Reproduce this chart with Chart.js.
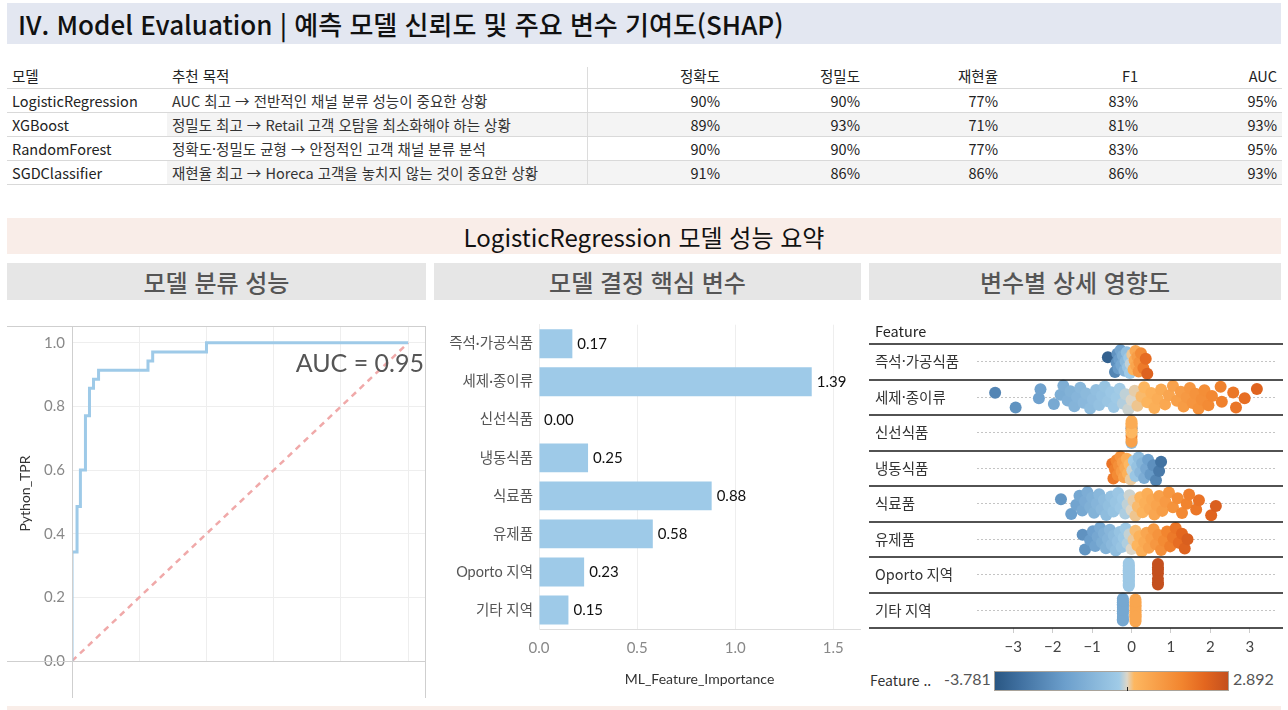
<!DOCTYPE html>
<html lang="ko">
<head>
<meta charset="utf-8">
<title>Model Evaluation</title>
<script src="https://cdn.jsdelivr.net/npm/chart.js@4.4.1/dist/chart.umd.min.js"></script>
<style>
  body { margin: 0; width: 1288px; height: 710px; position: relative; overflow: hidden; background: #fff;
         font-family: 'Noto Sans CJK KR', 'Noto Sans', sans-serif; color: #222; }
  .abs { position: absolute; }
  .band { position: absolute; display: flex; align-items: center; }
  #title { left: 7px; top: 3px; width: 1274px; height: 41px; background: #e3e7f1; font-size: 26px; font-weight: 500; color: #111; }
  #title span { padding-left: 11px; }
  #summary { left: 7px; top: 218px; width: 1274px; height: 36px; background: #f9ede8; justify-content: center; font-size: 24px; color: #111; }
  .sub { top: 263px; height: 37px; background: #e6e6e6; justify-content: center; font-size: 24px; font-weight: 500; color: #555; }
  .cell { position: absolute; font-size: 14.5px; line-height: 23px; white-space: nowrap; }
  .num { text-align: right; }
  .hline { position: absolute; left: 7px; width: 1275px; height: 1px; background: #d9d9d9; }
  .shade { position: absolute; left: 167px; width: 1115px; height: 23px; background: #f4f4f4; }
  #bottom { left: 7px; top: 706px; width: 1274px; height: 4px; background: #f9ede8; }
  .box { position: absolute; }
  #legend { left: 869px; top: 668px; width: 414px; height: 26px; font-size: 14px; }
</style>
</head>
<body>
<div id="title" class="band"><span>IV. Model Evaluation | 예측 모델 신뢰도 및 주요 변수 기여도(SHAP)</span></div>
<div id="table"></div>
<div id="summary" class="band">LogisticRegression 모델 성능 요약</div>
<div class="band sub" style="left:7px;width:419px">모델 분류 성능</div>
<div class="band sub" style="left:434px;width:427px">모델 결정 핵심 변수</div>
<div class="band sub" style="left:869px;width:412px">변수별 상세 영향도</div>

<div class="box" style="left:7px;top:310px;width:419px;height:388px"><canvas id="rocChart"></canvas></div>
<div class="box" style="left:434px;top:310px;width:427px;height:390px"><canvas id="importanceChart"></canvas></div>
<div class="box" style="left:869px;top:310px;width:414px;height:358px"><canvas id="shapChart"></canvas></div>
<div id="legend" class="abs"></div>
<div id="bottom" class="abs"></div>

<script>
Chart.defaults.font.family = "'Lato', 'Noto Sans CJK KR', sans-serif";
Chart.defaults.color = "#888";
Chart.defaults.animation = false;

// ---- model comparison table ----
const models = ['LogisticRegression', 'XGBoost', 'RandomForest', 'SGDClassifier'];
const purposes = [
    'AUC 최고 → 전반적인 채널 분류 성능이 중요한 상황',
    '정밀도 최고 → Retail 고객 오탐을 최소화해야 하는 상황',
    '정확도·정밀도 균형 → 안정적인 고객 채널 분류 분석',
    '재현율 최고 → Horeca 고객을 놓치지 않는 것이 중요한 상황'
];
const metricNames = ['정확도', '정밀도', '재현율', 'F1', 'AUC'];
const accuracy = [90, 89, 90, 91];
const precision = [90, 93, 90, 86];
const recall = [77, 71, 77, 86];
const f1 = [83, 81, 83, 86];
const auc = [95, 93, 95, 93];

// ---- ROC curve (LogisticRegression) ----
const rocFpr = [0, 0, 0.015, 0.015, 0.025, 0.025, 0.04, 0.04, 0.052, 0.052, 0.064, 0.064, 0.079, 0.079, 0.226, 0.226, 0.24, 0.24, 0.40, 0.40, 1.0];
const rocTpr = [0, 0.343, 0.343, 0.486, 0.486, 0.6, 0.6, 0.771, 0.771, 0.857, 0.857, 0.886, 0.886, 0.914, 0.914, 0.943, 0.943, 0.971, 0.971, 1.0, 1.0];
const aucValue = 0.95;

// ---- feature importance ----
const features = ['즉석·가공식품', '세제·종이류', '신선식품', '냉동식품', '식료품', '유제품', 'Oporto 지역', '기타 지역'];
const importance = [0.17, 1.39, 0.00, 0.25, 0.88, 0.58, 0.23, 0.15];

// ---- SHAP values (x) and standardized feature values (colour) per feature ----
const shapConv = [-0.60, -0.42, -0.38, -0.36, -0.33, -0.31, -0.28, -0.26, -0.22, -0.18, -0.15, -0.12, -0.09, -0.06, -0.04, -0.02, 0.02, 0.05, 0.08, 0.10, 0.12, 0.15, 0.18, 0.20, 0.24, 0.30, 0.36, 0.40];
const valConv = [-3.5, -2.5, -2.2, -2.1, -1.9, -1.8, -1.6, -1.5, -1.3, -1.1, -0.9, -0.7, -0.5, -0.35, -0.25, -0.1, 0.1, 0.3, 0.5, 0.6, 0.7, 0.9, 1.1, 1.2, 1.4, 1.8, 2.1, 2.35];

const shapDet = [-3.46, -2.94, -2.35, -2.31, -1.97, -1.80, -1.73, -1.62, -1.55, -1.45, -1.38, -1.30, -1.22, -1.15, -1.05, -0.98, -0.90, -0.82, -0.75, -0.68, -0.60, -0.52, -0.45, -0.38, -0.30, -0.22, -0.15, -0.08, 0.00, 0.08, 0.15, 0.25, 0.32, 0.40, 0.50, 0.58, 0.66, 0.75, 0.85, 0.95, 1.05, 1.15, 1.25, 1.32, 1.40, 1.48, 1.55, 1.62, 1.70, 1.78, 1.85, 1.95, 2.04, 2.26, 2.29, 2.58, 2.65, 2.87, 3.18];
const valDet = [-2.49, -2.12, -1.69, -1.66, -1.42, -1.29, -1.24, -1.17, -1.12, -1.04, -0.99, -0.94, -0.88, -0.83, -0.76, -0.71, -0.65, -0.59, -0.54, -0.49, -0.43, -0.37, -0.32, -0.27, -0.22, -0.16, -0.11, -0.06, 0.00, 0.06, 0.11, 0.18, 0.23, 0.29, 0.36, 0.42, 0.47, 0.54, 0.61, 0.68, 0.76, 0.83, 0.90, 0.95, 1.01, 1.06, 1.12, 1.17, 1.22, 1.28, 1.33, 1.40, 1.47, 1.63, 1.65, 1.86, 1.91, 2.06, 2.29];

const shapFresh = [0, 0, 0, 0, 0, 0, 0, 0, 0, 0, 0, 0];
const valFresh = [-2.4, -0.8, -0.2, 0.5, 0.3, 0.9, 0.4, 1.6, 0.6, 0.8, 0.2, 0.5];

const shapFrozen = [-0.49, -0.46, -0.42, -0.38, -0.35, -0.32, -0.28, -0.25, -0.22, -0.19, -0.16, -0.12, -0.09, -0.05, -0.02, 0.02, 0.06, 0.10, 0.14, 0.18, 0.22, 0.27, 0.32, 0.37, 0.42, 0.48, 0.55, 0.62, 0.70, 0.75];
const valFrozen = [1.96, 1.84, 1.68, 1.52, 1.40, 1.28, 1.12, 1.00, 0.88, 0.76, 0.64, 0.48, 0.36, 0.20, 0.08, -0.08, -0.24, -0.40, -0.56, -0.72, -0.88, -1.08, -1.28, -1.48, -1.68, -1.92, -2.20, -2.48, -2.80, -3.00];

const shapGroc = [-1.79, -1.53, -1.40, -1.32, -1.25, -1.18, -1.12, -1.05, -1.00, -0.95, -0.88, -0.82, -0.76, -0.70, -0.64, -0.58, -0.52, -0.46, -0.40, -0.34, -0.28, -0.22, -0.16, -0.10, -0.05, 0.00, 0.05, 0.10, 0.16, 0.22, 0.28, 0.34, 0.40, 0.46, 0.52, 0.58, 0.64, 0.70, 0.78, 0.86, 0.95, 1.05, 1.17, 1.28, 1.40, 1.46, 1.64, 1.71, 2.02, 2.14];
const valGroc = [-2.03, -1.74, -1.59, -1.50, -1.42, -1.34, -1.27, -1.19, -1.14, -1.08, -1.00, -0.93, -0.86, -0.80, -0.73, -0.66, -0.59, -0.52, -0.45, -0.39, -0.32, -0.25, -0.18, -0.11, -0.06, 0.00, 0.06, 0.11, 0.18, 0.25, 0.32, 0.39, 0.45, 0.52, 0.59, 0.66, 0.73, 0.80, 0.89, 0.98, 1.08, 1.19, 1.33, 1.45, 1.59, 1.66, 1.86, 1.94, 2.30, 2.43];

const shapMilk = [-1.24, -1.18, -1.05, -0.98, -0.92, -0.86, -0.80, -0.75, -0.70, -0.65, -0.60, -0.55, -0.50, -0.45, -0.40, -0.35, -0.30, -0.25, -0.20, -0.15, -0.10, -0.05, 0.00, 0.05, 0.10, 0.15, 0.20, 0.26, 0.32, 0.38, 0.44, 0.50, 0.56, 0.62, 0.68, 0.75, 0.82, 0.90, 0.98, 1.05, 1.12, 1.20, 1.28, 1.35, 1.42];
const valMilk = [-2.14, -2.03, -1.81, -1.69, -1.59, -1.48, -1.38, -1.29, -1.21, -1.12, -1.03, -0.95, -0.86, -0.78, -0.69, -0.60, -0.52, -0.43, -0.34, -0.26, -0.17, -0.09, 0.00, 0.09, 0.17, 0.26, 0.34, 0.45, 0.55, 0.66, 0.76, 0.86, 0.97, 1.07, 1.17, 1.29, 1.41, 1.55, 1.69, 1.81, 1.93, 2.07, 2.21, 2.33, 2.45];

// binary region features: one SHAP value / feature value per group, with group sizes
const shapOporto = [-0.07, 0.67];
const valOporto = [-0.33, 2.89];
const countOporto = [16, 7];
const shapOther = [-0.22, 0.10];
const valOther = [-1.47, 0.67];
const countOther = [12, 14];

const colorMin = -3.781;
const colorMax = 2.892;

// ---------------- table ----------------
const table = document.getElementById('table');
const colLeft = [12, 172];
const colRight = [720, 860, 998, 1138, 1277];
const rowTop = [66, 89, 113, 137, 161];

function addCell(text, x, y, right, color) {
    const d = document.createElement('div');
    d.className = 'cell' + (right ? ' num' : '');
    d.textContent = text;
    d.style.top = y + 'px';
    d.style.color = color || '#222';
    if (right) { d.style.left = (x - 130) + 'px'; d.style.width = '130px'; }
    else d.style.left = x + 'px';
    table.appendChild(d);
}
function addLine(y) {
    const l = document.createElement('div');
    l.className = 'hline';
    l.style.top = y + 'px';
    table.appendChild(l);
}
[1, 3].forEach(r => {
    const s = document.createElement('div');
    s.className = 'shade';
    s.style.top = rowTop[r + 1] + 'px';
    table.appendChild(s);
});
const vline = document.createElement('div');
vline.className = 'abs';
Object.assign(vline.style, { left: '587px', top: '67px', width: '1px', height: '118px', background: '#dcdcdc' });
table.appendChild(vline);

addCell('모델', colLeft[0], rowTop[0] - 2);
addCell('추천 목적', colLeft[1], rowTop[0] - 2);
metricNames.forEach((m, j) => addCell(m, colRight[j], rowTop[0] - 2, true));
addLine(88);
const metrics = [accuracy, precision, recall, f1, auc];
models.forEach((m, i) => {
    const y = rowTop[i + 1];
    addCell(m, colLeft[0], y);
    addCell(purposes[i], colLeft[1], y, false, '#333');
    metrics.forEach((arr, j) => addCell(arr[i] + '%', colRight[j], y, true));
    addLine(y + 23);
});

// ---------------- ROC chart ----------------
const rocFrame = {
    id: 'rocFrame',
    afterDraw(chart) {
        const { ctx, chartArea: a } = chart;
        ctx.save();
        ctx.strokeStyle = '#cfcfcf';
        ctx.lineWidth = 1;
        ctx.beginPath();
        ctx.moveTo(0, a.top + 0.5); ctx.lineTo(chart.width, a.top + 0.5);
        ctx.moveTo(0, a.bottom + 0.5); ctx.lineTo(chart.width, a.bottom + 0.5);
        ctx.moveTo(a.left + 0.5, a.top); ctx.lineTo(a.left + 0.5, chart.height);
        ctx.moveTo(a.right + 0.5, a.top); ctx.lineTo(a.right + 0.5, chart.height);
        ctx.stroke();
        ctx.fillStyle = '#555';
        ctx.font = "25px 'Lato', sans-serif";
        ctx.textAlign = 'right';
        ctx.textBaseline = 'middle';
        ctx.fillText('AUC = ' + aucValue.toFixed(2), a.right - 1, chart.scales.y.getPixelForValue(0.935));
        ctx.restore();
    }
};

new Chart(document.getElementById('rocChart'), {
    type: 'scatter',
    data: {
        datasets: [
            {
                label: 'ROC',
                data: rocFpr.map((x, i) => ({ x, y: rocTpr[i] })),
                showLine: true,
                borderColor: '#9ecae8',
                borderWidth: 3,
                pointRadius: 0,
                order: 1
            },
            {
                label: 'Random',
                data: [{ x: 0, y: 0 }, { x: 1, y: 1 }],
                showLine: true,
                borderColor: '#f0a9a9',
                borderWidth: 2.5,
                borderDash: [6, 5],
                pointRadius: 0,
                order: 2
            }
        ]
    },
    plugins: [rocFrame],
    options: {
        responsive: true,
        maintainAspectRatio: false,
        layout: { padding: { top: 14, right: 1 } },
        plugins: { legend: { display: false }, tooltip: { enabled: false } },
        scales: {
            x: {
                type: 'linear', min: 0, max: 1.05,
                afterBuildTicks: s => { s.ticks = [0, 0.2, 0.4, 0.6, 0.8, 1.0].map(v => ({ value: v })); },
                afterFit: s => { s.height = 37; },
                ticks: { display: false },
                grid: { color: '#eeeeee', drawTicks: false },
                border: { display: false }
            },
            y: {
                min: 0, max: 1.053,
                afterBuildTicks: s => { s.ticks = [0, 0.2, 0.4, 0.6, 0.8, 1.0].map(v => ({ value: v })); },
                afterFit: s => { s.width = 65; },
                ticks: { color: '#888', font: { size: 15 }, padding: 7, callback: v => v.toFixed(1) },
                grid: { color: '#eeeeee', drawTicks: false },
                border: { display: false },
                title: { display: true, text: 'Python_TPR', color: '#333', font: { size: 14 }, padding: { top: 10 } }
            }
        }
    }
});

// ---------------- feature importance ----------------
const barLabels = {
    id: 'barLabels',
    afterDatasetsDraw(chart) {
        const { ctx } = chart;
        ctx.save();
        ctx.fillStyle = '#111';
        ctx.font = "15px 'Lato', sans-serif";
        ctx.textBaseline = 'middle';
        chart.getDatasetMeta(0).data.forEach((bar, i) => {
            ctx.fillText(importance[i].toFixed(2), bar.x + 5, bar.y);
        });
        ctx.restore();
    }
};

new Chart(document.getElementById('importanceChart'), {
    type: 'bar',
    data: {
        labels: features,
        datasets: [{
            data: importance,
            backgroundColor: '#9ecae8',
            barPercentage: 0.76,
            categoryPercentage: 1.0
        }]
    },
    plugins: [barLabels],
    options: {
        indexAxis: 'y',
        responsive: true,
        maintainAspectRatio: false,
        layout: { padding: { top: 14, right: 1 } },
        plugins: { legend: { display: false }, tooltip: { enabled: false } },
        scales: {
            x: {
                min: 0, max: 1.636,
                afterBuildTicks: s => { s.ticks = [0, 0.5, 1.0, 1.5].map(v => ({ value: v })); },
                afterFit: s => { s.height = 71; },
                ticks: { color: '#888', font: { size: 15 }, padding: 6, callback: v => v.toFixed(1) },
                grid: { color: '#eeeeee', tickLength: 4, tickColor: 'rgba(0,0,0,0)' },
                border: { color: '#dddddd' },
                title: { display: true, text: 'ML_Feature_Importance', color: '#333', font: { size: 14 }, padding: { bottom: 12 } }
            },
            y: {
                afterFit: s => { s.width = 105; },
                ticks: { color: '#555', font: { size: 14.5 }, padding: 6 },
                grid: { display: false, drawTicks: false },
                border: { color: '#eeeeee' }
            }
        }
    }
});

// ---------------- SHAP beeswarm ----------------
function hex(c) { return [1, 3, 5].map(i => parseInt(c.substr(i, 2), 16)); }
function ramp(stops, t) {
    for (let i = 1; i < stops.length; i++) {
        if (t <= stops[i][0]) {
            const [t0, c0] = stops[i - 1], [t1, c1] = stops[i];
            const k = (t - t0) / (t1 - t0);
            const a = hex(c0), b = hex(c1);
            return 'rgb(' + a.map((v, j) => Math.round(v + (b[j] - v) * k)).join(',') + ')';
        }
    }
    return stops[stops.length - 1][1];
}
const blueStops = [[0, '#dcd6c8'], [0.06, '#a0cbe7'], [0.47, '#6c9fcc'], [0.82, '#3f6f9f'], [1, '#2a5783']];
const orangeStops = [[0, '#dcd6c8'], [0.07, '#fdb760'], [0.54, '#f2852f'], [0.77, '#e3661f'], [1, '#c4501e']];
function valueColor(v) {
    return v < 0 ? ramp(blueStops, v / colorMin) : ramp(orangeStops, v / colorMax);
}

function expand(shap, vals, counts) {
    const s = [], v = [];
    shap.forEach((x, g) => { for (let k = 0; k < counts[g]; k++) { s.push(x); v.push(vals[g]); } });
    return [s, v];
}
const [shapOportoPts, valOportoPts] = expand(shapOporto, valOporto, countOporto);
const [shapOtherPts, valOtherPts] = expand(shapOther, valOther, countOther);

const shapRows = [shapConv, shapDet, shapFresh, shapFrozen, shapGroc, shapMilk, shapOportoPts, shapOtherPts];
const valRows = [valConv, valDet, valFresh, valFrozen, valGroc, valMilk, valOportoPts, valOtherPts];

// deterministic vertical jitter inside each row band
function jitter(i) { return (((i * 0.618034 + 0.31) % 1) - 0.5) * 0.68; }

const shapDatasets = shapRows.map((xs, r) => ({
    data: xs.map((x, i) => ({ x, y: r + jitter(i) })),
    backgroundColor: valRows[r].map(valueColor),
    pointRadius: 6,
    pointBorderWidth: 0,
    pointHoverRadius: 6
}));

const shapFrame = {
    id: 'shapFrame',
    afterDraw(chart) {
        const { ctx, scales: { y } } = chart;
        ctx.save();
        ctx.strokeStyle = '#1a1a1a';
        ctx.lineWidth = 1.5;
        ctx.beginPath();
        for (let i = 0; i <= features.length; i++) {
            const py = Math.round(y.getPixelForValue(i - 0.5));
            ctx.moveTo(0, py); ctx.lineTo(chart.width, py);
        }
        ctx.stroke();
        ctx.fillStyle = '#333';
        ctx.font = "14.5px 'Noto Sans CJK KR', sans-serif";
        ctx.textBaseline = 'middle';
        features.forEach((f, i) => ctx.fillText(f, 6, y.getPixelForValue(i)));
        ctx.fillStyle = '#222';
        ctx.fillText('Feature', 6, y.getPixelForValue(-0.5) - 13);
        ctx.restore();
    }
};

new Chart(document.getElementById('shapChart'), {
    type: 'scatter',
    data: { datasets: shapDatasets },
    plugins: [shapFrame],
    options: {
        responsive: true,
        maintainAspectRatio: false,
        layout: { padding: { top: 34 } },
        plugins: { legend: { display: false }, tooltip: { enabled: false } },
        scales: {
            x: {
                min: -3.92, max: 3.69,
                afterBuildTicks: s => { s.ticks = [-3, -2, -1, 0, 1, 2, 3].map(v => ({ value: v })); },
                afterFit: s => { s.height = 40; },
                ticks: { color: '#444', font: { size: 15 }, padding: 5, callback: v => v < 0 ? '\u2212' + Math.abs(v) : String(v) },
                grid: { drawOnChartArea: false, tickLength: 5, tickColor: '#cccccc' },
                border: { display: false }
            },
            y: {
                reverse: true, min: -0.5, max: 7.5,
                afterBuildTicks: s => { s.ticks = features.map((f, i) => ({ value: i })); },
                afterFit: s => { s.width = 108; },
                ticks: { display: false },
                grid: { color: '#c4c4c4', drawTicks: false },
                border: { display: false, dash: [2, 2] }
            }
        }
    }
});

// colour legend
const legend = document.getElementById('legend');
const blueCss = blueStops.slice().reverse().map(([t, c]) => c + ' ' + ((1 - t) * 56.7).toFixed(1) + '%');
const orangeCss = orangeStops.map(([t, c]) => c + ' ' + (56.7 + t * 43.3).toFixed(1) + '%');
legend.innerHTML =
    '<div class="abs" style="left:1px;top:2px;color:#333">Feature ..</div>' +
    '<div class="abs" style="left:75px;top:1px;color:#555;font-family:Lato;font-size:16px">' + colorMin.toFixed(3) + '</div>' +
    '<div class="abs" style="left:125px;top:3px;width:233px;height:18px;border:1px solid #a9a39a;background:linear-gradient(to right,' +
        blueCss.concat(orangeCss).join(',') + ')"></div>' +
    '<div class="abs" style="left:258px;top:19px;width:1px;height:4px;background:#222"></div>' +
    '<div class="abs" style="left:364px;top:1px;color:#555;font-family:Lato;font-size:16px">' + colorMax.toFixed(3) + '</div>';
</script>
</body>
</html>
